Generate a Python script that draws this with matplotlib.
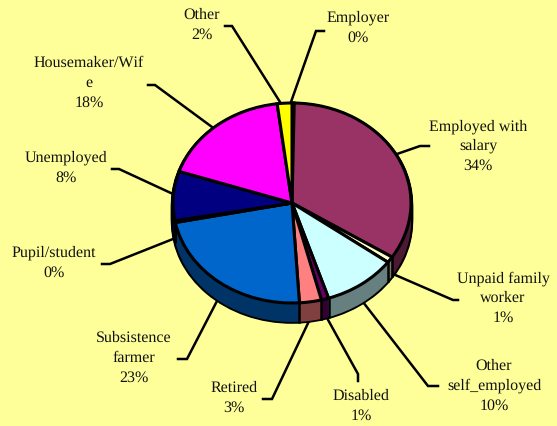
import numpy as np
import matplotlib
matplotlib.use("Agg")
import matplotlib.pyplot as plt

# values, the two "0%" slices are thin but not empty
categories = ["Employer", "Employed with\nsalary", "Unpaid family\nworker", "Other\nself_employed",
              "Disabled", "Retired", "Subsistence\nfarmer", "Pupil/student", "Unemployed",
              "Housemaker/Wif\ne", "Other"]
values = [0.3, 34, 1, 10, 1, 3, 23, 0.3, 8, 18, 2]
percents = ["0%", "34%", "1%", "10%", "1%", "3%", "23%", "0%", "8%", "18%", "2%"]

colors = ["#9999FF", "#993366", "#FFFFCC", "#CCFFFF", "#660066", "#FF8080",
          "#0066CC", "#CCCCFF", "#000080", "#FF00FF", "#FFFF00"]
side_colors = ["#4C4C80", "#4C1933", "#808066", "#668080", "#330033", "#804040",
               "#003366", "#666680", "#000040", "#800080", "#808000"]

# layout in pixels of the 557x427 picture
W, H = 557, 427
CX, CY, RX, RY, DEPTH = 292, 204, 119, 100, 19
label_pos = [(358, 28), (478, 146), (503, 298), (494, 386), (361, 406), (234, 398),
             (134, 358), (54, 263), (66, 168), (89, 83), (202, 25)]
leaders = [
    [(291, 103), (316, 32), (324, 32)],
    [(397, 155), (420, 147), (429, 147)],
    [(393, 275), (453, 301), (458, 301)],
    [(363, 303), (428, 387), (438, 387)],
    [(327, 319), (358, 375), (358, 382)],
    [(310, 320), (272, 400), (263, 400)],
    [(217, 302), (187, 360), (178, 360)],
    [(173, 240), (110, 265), (102, 265)],
    [(173, 195), (119, 170), (112, 170)],
    [(212, 128), (155, 86), (148, 86)],
    [(280, 103), (232, 27), (225, 27)],
]

bg = "#FFFF99"
plt.rcParams["font.family"] = ["Liberation Serif", "DejaVu Serif"]
plt.rcParams["text.hinting"] = "none"
plt.rcParams["text.hinting_factor"] = 1
fig = plt.figure(figsize=(W / 100, H / 100), dpi=100, facecolor=bg)

# text and leader lines, in pixel coordinates
ax = fig.add_axes([0, 0, 1, 1])
ax.set_xlim(0, W)
ax.set_ylim(H, 0)
ax.axis("off")
for line in leaders:
    xs, ys = zip(*line)
    ax.plot(xs, ys, color="black", lw=1.8, solid_joinstyle="miter")
for cat, pct, (x, y) in zip(categories, percents, label_pos):
    ax.text(x, y, cat + "\n" + pct, ha="center", va="center", fontsize=11.5,
            linespacing=1.47, color="#111111")

# pie axes, stretched so a unit circle comes out as the tilted ellipse
xlim = (-1.3, 1.3)
ylim = (-1.5, 1.3)
pie_w = (xlim[1] - xlim[0]) * RX
pie_h = (ylim[1] - ylim[0]) * RY
left = CX + xlim[0] * RX
bottom = H - (CY - ylim[0] * RY)
pax = fig.add_axes([left / W, bottom / H, pie_w / W, pie_h / H])
d = DEPTH / RY

# side wall: black silhouette first, then the coloured layers on top
for off in np.arange(d, -0.001, -0.02):
    pax.pie([1], colors=["black"], radius=1.018, center=(0, -off), counterclock=False)
for off in np.arange(d, -0.001, -0.02):
    pax.pie(values, colors=side_colors, startangle=90, counterclock=False, center=(0, -off))

# black separators on the front of the wall
fracs = np.cumsum(values) / np.sum(values)
angles = np.pi / 2 - 2 * np.pi * fracs
for a in angles:
    if np.sin(a) < 0:
        pax.plot([np.cos(a)] * 2, [np.sin(a), np.sin(a) - d], color="black", lw=1.8)

pax.pie(values, colors=colors, startangle=90, counterclock=False,
        wedgeprops={"edgecolor": "black", "linewidth": 2.2})

pax.set_aspect("auto")
pax.set_xlim(*xlim)
pax.set_ylim(*ylim)
pax.axis("off")

fig.savefig("out.png", dpi=100, facecolor=bg)
